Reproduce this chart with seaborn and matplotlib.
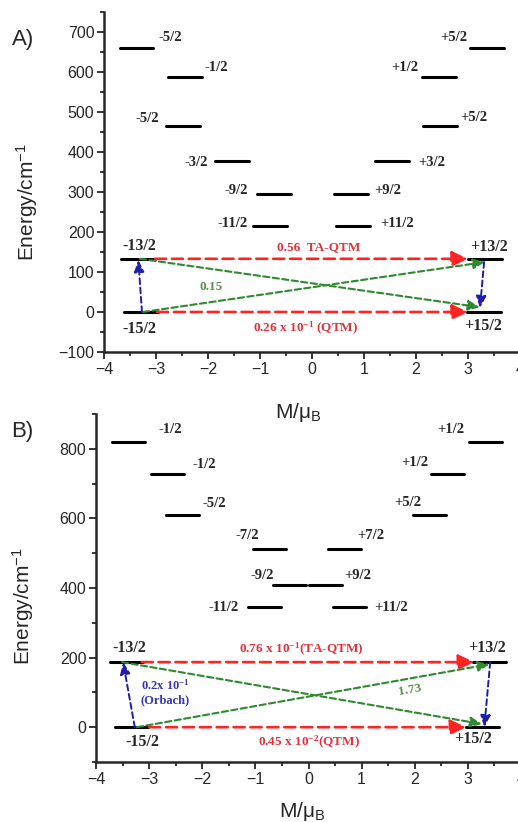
import numpy as np
import pandas as pd
import matplotlib
matplotlib.use("Agg")
import matplotlib.pyplot as plt
from matplotlib.ticker import MultipleLocator
import seaborn as sns

# ---------------- data ----------------
# Panel A : energy levels (cm^-1) and their M positions (left edge of segment)
A_left_E = [660, 587, 465, 377, 295, 215, 133, 0]
A_left_M = [-3.70, -2.77, -2.81, -1.87, -1.06, -1.13, -3.67, -3.62]
A_left_lab = ['-5/2', '-1/2', '-5/2', '-3/2', '-9/2', '-11/2', '-13/2', '-15/2']
A_right_E = [660, 587, 465, 377, 295, 215, 133, 0]
A_right_M = [3.04, 2.12, 2.13, 1.21, 0.42, 0.47, 3.00, 2.98]
A_right_lab = ['+5/2', '+1/2', '+5/2', '+3/2', '+9/2', '+11/2', '+13/2', '+15/2']

# Panel B
B_left_E = [820, 728, 610, 512, 408, 345, 187, 0]
B_left_M = [-3.70, -2.97, -2.68, -1.04, -0.66, -1.14, -3.74, -3.64]
B_left_lab = ['-1/2', '-1/2', '-5/2', '-7/2', '-9/2', '-11/2', '-13/2', '-15/2']
B_right_E = [820, 728, 610, 512, 408, 345, 187, 0]
B_right_M = [3.03, 2.30, 1.96, 0.36, 0.01, 0.46, 3.10, 2.97]
B_right_lab = ['+1/2', '+1/2', '+5/2', '+7/2', '+9/2', '+11/2', '+13/2', '+15/2']

# Transition arrows: (M_start, E_start, M_end, E_end)
A_red = [(-3.02, 133, 3.00, 133), (-2.98, 0, 3.00, 0)]
A_green = [(-3.25, 0, 3.33, 125), (-3.31, 133, 3.23, 12)]
A_blue = [(-3.27, 0, -3.34, 130), (3.31, 125, 3.23, 10)]
B_red = [(-3.14, 187, 3.12, 187), (-3.00, 0, 2.97, 0)]
B_green = [(-3.23, 0, 3.41, 181), (-3.51, 187, 3.27, 9)]
B_blue = [(-3.27, 0, -3.49, 187), (3.42, 187, 3.31, 0)]

# Transition probability annotations
A_notes = ["0.56  TA-QTM", r"0.26 x 10$\mathregular{^{-1}}$ (QTM)", "0.15"]
B_notes = [r"0.76 x 10$\mathregular{^{-1}}$(TA-QTM)", r"0.45 x 10$\mathregular{^{-2}}$(QTM)",
           "0.2x 10$\\mathregular{^{-1}}$\n(Orbach)", "1.73"]

# ---------------- layout (label placements) ----------------
A_left_pos = [(-2.96, 687, 'left'), (-2.06, 612, 'left'), (-2.94, 485, 'right'), (-2.00, 375, 'right'),
              (-1.23, 303, 'right'), (-1.23, 222, 'right'), (-3.65, 165, 'left'), (-3.65, -43, 'left')]
A_right_pos = [(2.98, 687, 'right'), (2.04, 612, 'right'), (2.85, 487, 'left'), (2.04, 375, 'left'),
               (1.19, 305, 'left'), (1.31, 222, 'left'), (3.04, 163, 'left'), (2.92, -35, 'left')]
B_left_pos = [(-2.83, 855, 'left'), (-2.18, 754, 'left'), (-1.99, 642, 'left'), (-0.92, 550, 'right'),
              (-0.65, 437, 'right'), (-1.31, 345, 'right'), (-3.70, 227, 'left'), (-3.44, -43, 'left')]
B_right_pos = [(2.94, 855, 'right'), (2.26, 760, 'right'), (2.13, 647, 'right'), (0.91, 550, 'left'),
               (0.68, 437, 'left'), (1.24, 345, 'left'), (3.01, 227, 'left'), (2.75, -35, 'left')]

RED, GREEN, BLUE = '#ff2323', '#2e8a2e', '#1e1ea8'
RED_T, GREEN_T, BLUE_T = '#e2303c', '#5e8d4e', '#3636b0'

sns.set_style("ticks")
plt.rcParams['font.family'] = ['Liberation Sans', 'DejaVu Sans']
plt.rcParams['axes.linewidth'] = 1.8
plt.rcParams['xtick.major.width'] = 1.3
plt.rcParams['ytick.major.width'] = 1.3
plt.rcParams['xtick.minor.width'] = 1.3
plt.rcParams['ytick.minor.width'] = 1.3
plt.rcParams['xtick.direction'] = 'out'
plt.rcParams['ytick.direction'] = 'out'

fig = plt.figure(figsize=(5.18, 8.22), dpi=100)
axA = fig.add_axes([104 / 518, 1 - 352 / 822, 416 / 518, 340 / 822])
axB = fig.add_axes([96 / 518, 1 - 762 / 822, 425 / 518, 348 / 822])
axA.patch.set_visible(False)
axB.patch.set_visible(False)

SERIF = ['Liberation Serif', 'DejaVu Serif']


def levels_df(Ms, Es, width, prefix):
    rows = []
    for i, (m, e) in enumerate(zip(Ms, Es)):
        rows.append(dict(id=f"{prefix}{i}", M=m, E=e))
        rows.append(dict(id=f"{prefix}{i}", M=m + width, E=e))
    return pd.DataFrame(rows)


def arrow(ax, seg, color, lw, dash, hl, hw, ms):
    x0, y0, x1, y1 = seg
    ax.annotate('', xy=(x1, y1), xytext=(x0, y0), zorder=4,
                arrowprops=dict(arrowstyle=f'-|>,head_length={hl},head_width={hw}',
                                color=color, lw=lw, linestyle=(0, dash),
                                shrinkA=0, shrinkB=0, mutation_scale=ms))


def setup(ax, ylim, ymaj, ymin):
    ax.set_xlim(-4, 4)
    ax.set_ylim(*ylim)
    ax.xaxis.set_major_locator(MultipleLocator(1))
    ax.xaxis.set_minor_locator(MultipleLocator(0.5))
    ax.yaxis.set_major_locator(MultipleLocator(ymaj))
    ax.yaxis.set_minor_locator(MultipleLocator(ymin))
    ax.tick_params(which='major', length=5, pad=2, labelsize=11.5)
    ax.tick_params(which='minor', length=3)
    sns.despine(ax=ax)
    ax.set_xlabel(r"M/$\mathregular{\mu_B}$", fontsize=15)
    ax.set_ylabel(r"Energy/cm$\mathregular{^{-1}}$", fontsize=15)


def panel(ax, lE, lM, llab, lpos, rE, rM, rlab, rpos, width, reds, greens, blues):
    df = pd.concat([levels_df(lM, lE, width, 'L'), levels_df(rM, rE, width, 'R')])
    sns.lineplot(data=df, x='M', y='E', units='id', estimator=None, sort=False,
                 color='black', lw=2.2, ax=ax, legend=False, zorder=3)
    for lab, (x, y, ha) in zip(llab + rlab, lpos + rpos):
        big = ('13' in lab) or ('15' in lab)
        ax.text(x, y, lab, ha=ha, va='center', family=SERIF, weight='bold',
                fontsize=11.5 if big else 10.5)
    for s in reds:
        arrow(ax, s, RED, 1.9, (4.2, 2.2), 0.8, 0.38, 12)
    for s in greens:
        arrow(ax, s, GREEN, 1.5, (3.0, 1.6), 0.7, 0.3, 10)
    for s in blues:
        arrow(ax, s, BLUE, 1.4, (3.0, 1.8), 0.7, 0.3, 10)


panel(axA, A_left_E, A_left_M, A_left_lab, A_left_pos, A_right_E, A_right_M, A_right_lab, A_right_pos,
      0.65, A_red, A_green, A_blue)
setup(axA, (-100, 750), 100, 50)
axA.text(0.135, 163, A_notes[0], color=RED_T, family=SERIF, weight='bold', fontsize=9.5, ha='center', va='center')
axA.text(-0.12, -40, A_notes[1], color=RED_T, family=SERIF, weight='bold', fontsize=9.5, ha='center', va='center')
axA.text(-1.94, 62, A_notes[2], color=GREEN_T, family=SERIF, weight='bold', fontsize=9.5, ha='center', va='center')
axA.yaxis.set_label_coords(-0.154, 0.441)
axA.xaxis.set_label_coords(0.466, -0.145)

panel(axB, B_left_E, B_left_M, B_left_lab, B_left_pos, B_right_E, B_right_M, B_right_lab, B_right_pos,
      0.62, B_red, B_green, B_blue)
setup(axB, (-100, 900), 200, 100)
axB.text(-0.13, 224, B_notes[0], color=RED_T, family=SERIF, weight='bold', fontsize=9.5, ha='center', va='center')
axB.text(0.0, -43, B_notes[1], color=RED_T, family=SERIF, weight='bold', fontsize=9.5, ha='center', va='center')
axB.text(-2.70, 100, B_notes[2], color=BLUE_T, family=SERIF, weight='bold', fontsize=9, ha='center', va='center',
         linespacing=1.2)
axB.text(1.9, 106, B_notes[3], color=GREEN_T, family=SERIF, weight='bold', fontsize=9.5, ha='center', va='center',
         rotation=10)
axB.yaxis.set_label_coords(-0.141, 0.448)
axB.xaxis.set_label_coords(0.485, -0.109)

fig.text(23 / 518, 1 - 40 / 822, "A)", fontsize=16, ha='center', va='center')
fig.text(22 / 518, 1 - 431 / 822, "B)", fontsize=16, ha='center', va='center')

fig.savefig("out.png", dpi=100)
